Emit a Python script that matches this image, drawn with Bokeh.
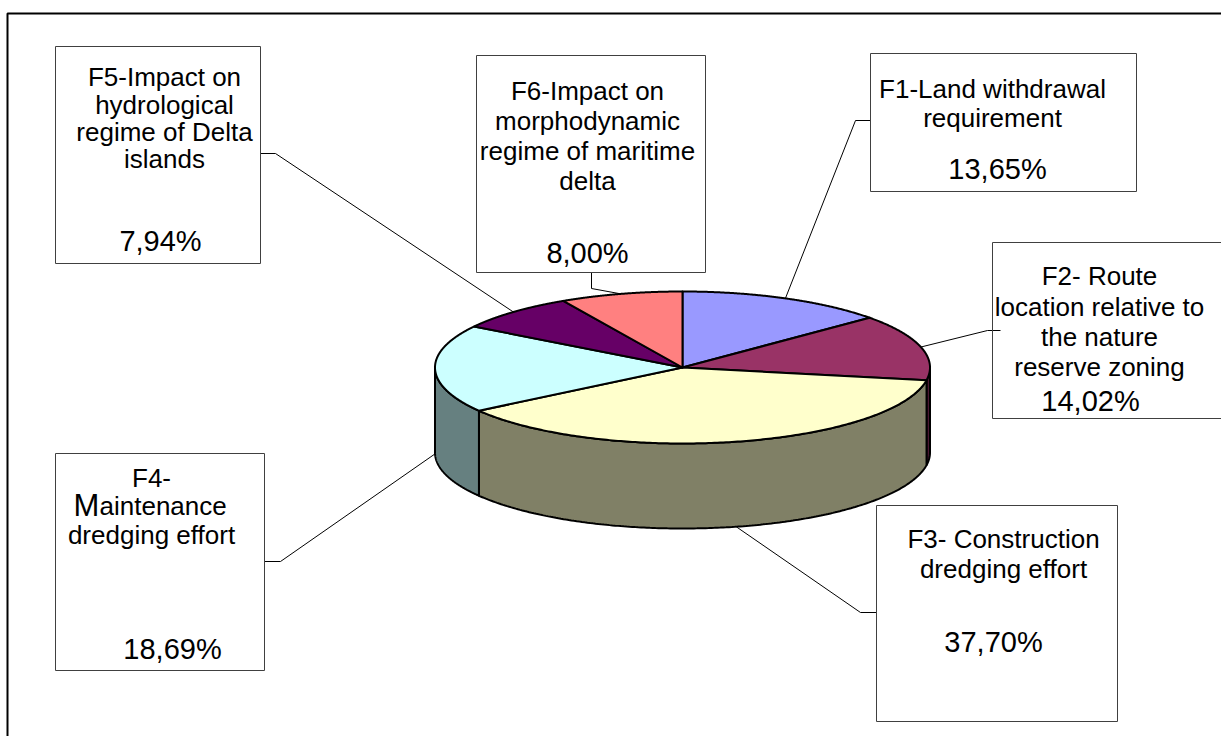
import numpy as np
from bokeh.plotting import figure
from bokeh.models import Range1d
from bokeh.core.properties import value
from bokeh.embed import file_html
from bokeh.resources import INLINE

# ---- data -------------------------------------------------------------
factors = ["F1", "F2", "F3", "F4", "F5", "F6"]
shares = [13.65, 14.02, 37.70, 18.69, 7.94, 8.00]
titles = [
    ["F1-Land withdrawal", "requirement"],
    ["F2- Route", "location relative to", "the nature", "reserve zoning"],
    ["F3- Construction", "dredging effort"],
    ["F4-", "Maintenance", "dredging effort"],
    ["F5-Impact on", "hydrological", "regime of Delta", "islands"],
    ["F6-Impact on", "morphodynamic", "regime of maritime", "delta"],
]
top_colors = ["#9999FF", "#993366", "#FFFFCC", "#CCFFFF", "#660066", "#FF8080"]
side_colors = ["#4C4C80", "#4C1933", "#808066", "#668080", "#330033", "#804040"]

# ---- layout -----------------------------------------------------------
W, H = 1221, 736
CX, CY = 682.0, 367.0      # centre of the top face
RX, RY = 247.5, 76.0       # radii of the top ellipse
DEPTH = 85.0               # height of the cylinder wall
FONT = "Liberation Sans"
FS = 26                    # label titles
FS_PCT = 29                # percentage values

# label boxes: left, top, right, bottom; text lines: centre x, baseline y
boxes = {
    "F1": dict(box=(870, 53, 1136, 191), cx=992, base=[88, 117], pct=(997, 168),
               elbow=[(870, 120), (855, 120)]),
    "F2": dict(box=(992, 242, 1240, 418), cx=1099, base=[275, 306, 336, 366], pct=(1090, 400),
               elbow=[(1000, 330), (987, 330)]),
    "F3": dict(box=(876, 505, 1117, 721), cx=1003, base=[538, 568], pct=(993, 641),
               elbow=[(876, 612), (860, 612)]),
    "F4": dict(box=(55, 453, 264, 670), cx=151, base=[477, 505, 534], pct=(172, 648),
               elbow=[(264, 561), (280, 561)]),
    "F5": dict(box=(55, 46, 260, 263), cx=164, base=[76, 104, 131, 158], pct=(160, 240),
               elbow=[(260, 153), (275, 153)]),
    "F6": dict(box=(476, 55, 705, 272), cx=587, base=[90, 120, 150, 180], pct=(587, 252),
               elbow=[(591, 272), (591, 288)]),
}

p = figure(width=W, height=H, x_range=Range1d(0, W), y_range=Range1d(H, 0),
           output_backend="svg", toolbar_location=None, min_border=0)
p.axis.visible = False
p.grid.visible = False
p.outline_line_color = None
p.background_fill_color = "white"
p.border_fill_color = "white"

# outer chart frame (runs off the right and bottom edges)
p.quad(left=7, right=W + 20, top=13, bottom=H + 20, fill_color=None,
       line_color="black", line_width=2)


def rim(theta_deg, drop=0.0):
    t = np.radians(theta_deg)
    return CX + RX * np.sin(t), CY - RY * np.cos(t) + drop


# slice angles, clockwise from 12 o'clock
fr = np.array(shares) / sum(shares)
ends = np.cumsum(fr) * 360.0
starts = np.concatenate([[0.0], ends[:-1]])

# cylinder wall: only the front half (90..270 deg) faces the viewer
side_xs, side_ys, side_fc = [], [], []
for a, b, col in zip(starts, ends, side_colors):
    s, e = max(a, 90.0), min(b, 270.0)
    if e <= s:
        continue
    th = np.linspace(s, e, 200)
    tx, ty = rim(th)
    bx, by = rim(th[::-1], DEPTH)
    side_xs.append(list(np.concatenate([tx, bx])))
    side_ys.append(list(np.concatenate([ty, by])))
    side_fc.append(col)
p.patches(side_xs, side_ys, fill_color=side_fc, line_color="black", line_width=2)

# top faces
top_xs, top_ys = [], []
for a, b in zip(starts, ends):
    th = np.linspace(a, b, 200)
    ax, ay = rim(th)
    top_xs.append([CX] + list(ax))
    top_ys.append([CY] + list(ay))
p.patches(top_xs, top_ys, fill_color=top_colors, line_color="black", line_width=2,
          line_join="round")

# leader lines from the label boxes to the middle of each slice's rim
lx, ly = [], []
for f, a, b in zip(factors, starts, ends):
    mid = (a + b) / 2.0
    drop = DEPTH if 90.0 < mid < 270.0 else 0.0
    mx, my = rim(mid, drop)
    pts = boxes[f]["elbow"] + [(float(mx), float(my))]
    lx.append([q[0] for q in pts])
    ly.append([q[1] for q in pts])
p.multi_line(lx, ly, line_color="black", line_width=1)

# label boxes
for f in factors:
    l, t, r, bt = boxes[f]["box"]
    p.quad(left=l, right=r, top=t, bottom=bt, fill_color=None,
           line_color="#404040", line_width=1)

# label titles
tx, ty, tt = [], [], []
for f, lines in zip(factors, titles):
    spec = boxes[f]
    for line, yb in zip(lines, spec["base"]):
        if line == "Maintenance":
            continue
        tx.append(spec["cx"])
        ty.append(yb)
        tt.append(line)
p.text(x=tx, y=ty, text=tt, text_font=value(FONT), text_font_size=f"{FS}px",
       text_align="center", text_baseline="alphabetic", text_color="black")

# percentage values
px = [boxes[f]["pct"][0] for f in factors]
py = [boxes[f]["pct"][1] for f in factors]
pt = [f"{v:.2f}%".replace(".", ",") for v in shares]
p.text(x=px, y=py, text=pt, text_font=value(FONT), text_font_size=f"{FS_PCT}px",
       text_align="center", text_baseline="alphabetic", text_color="black")

# "Maintenance" is set with an oversized initial capital
mb = boxes["F4"]["base"][1]
p.text(x=[73], y=[mb], text=["M"], text_font=value(FONT), text_font_size="31px",
       text_align="left", text_baseline="alphabetic", text_color="black")
p.text(x=[99], y=[mb], text=["aintenance"], text_font=value(FONT), text_font_size=f"{FS}px",
       text_align="left", text_baseline="alphabetic", text_color="black")

open("out.html", "w").write(file_html(p, INLINE))
